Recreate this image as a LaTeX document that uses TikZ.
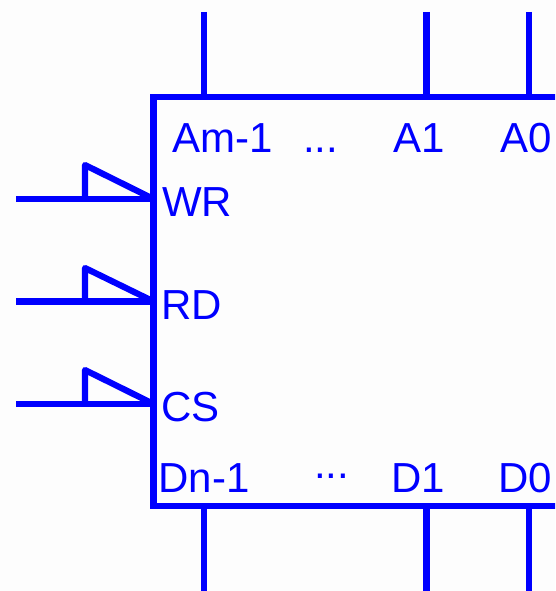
\documentclass[tikz,border=0pt]{standalone}
\usepackage{fontspec}
\setmainfont{Liberation Sans}
\definecolor{sig}{RGB}{0,0,255}
\definecolor{paper}{RGB}{253,253,253}
\tikzset{
  wire/.style={draw=sig,line width=6.6pt,line cap=butt},
  clock/.style={draw=sig,line width=6.2pt,line join=round},
  chipbox/.style={draw=sig,line width=6.6pt,rectangle,inner sep=0pt,outer sep=0pt,minimum width=420pt,minimum height=409pt},
  lbl/.style={anchor=base west,inner sep=0pt,outer sep=0pt,text=sig,font=\fontsize{42}{42}\selectfont}
}
\begin{document}
\begin{tikzpicture}[x=1pt,y=-1pt]
\useasboundingbox[fill=paper] (0,0) rectangle (555,591);
\clip (0,0) rectangle (555,591);
\node[chipbox] (chip) at (363.6,301.5) {};
% address pins
\coordinate (am) at (204,12);
\coordinate (a1) at (426.5,12);
\coordinate (a0) at (529,12);
\draw[wire] (am) -- (am|-chip.north);
\draw[wire] (a1) -- (a1|-chip.north);
\draw[wire] (a0) -- (a0|-chip.north);
% data pins
\coordinate (dn) at (204,591);
\coordinate (d1) at (426.5,591);
\coordinate (d0) at (529,591);
\draw[wire] (dn) -- (dn|-chip.south);
\draw[wire] (d1) -- (d1|-chip.south);
\draw[wire] (d0) -- (d0|-chip.south);
% control pins
\coordinate (wr) at (16,199);
\coordinate (rd) at (16,301.5);
\coordinate (cs) at (16,404);
\coordinate (wrt) at (85,165);
\coordinate (rdt) at (85,268);
\coordinate (cst) at (85,370);
\draw[wire] (wr) -- (wr-|chip.west);
\draw[wire] (rd) -- (rd-|chip.west);
\draw[wire] (cs) -- (cs-|chip.west);
\draw[clock] (wrt|-wr) -- (wrt) -- (wr-|chip.west);
\draw[clock] (rdt|-rd) -- (rdt) -- (rd-|chip.west);
\draw[clock] (cst|-cs) -- (cst) -- (cs-|chip.west);
% labels
\node[lbl] (lam) at (172.5,152) {Am-1};
\node[lbl] (ldt) at (303,152) {...};
\node[lbl] (la1) at (393,152) {A1};
\node[lbl] (la0) at (500,152) {A0};
\node[lbl] (lwr) at (162,216) {WR};
\node[lbl] (lrd) at (161.5,319) {RD};
\node[lbl] (lcs) at (161.5,421) {CS};
\node[lbl] (ldn) at (158.5,492) {Dn-1};
\node[lbl] (ldd) at (314,478) {...};
\node[lbl] (ld1) at (391.5,492) {D1};
\node[lbl] (ld0) at (498,492) {D0};
\end{tikzpicture}
\end{document}
